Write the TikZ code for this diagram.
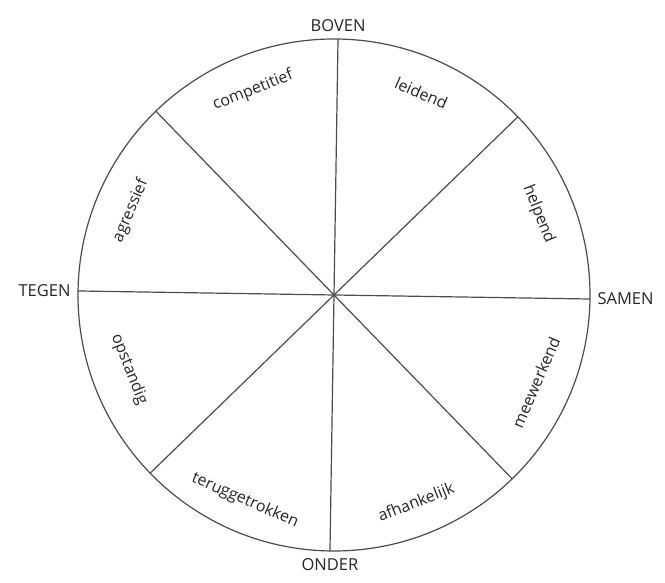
\documentclass[tikz,border=0pt]{standalone}
\usepackage{fontspec}
\setmainfont{Open Sans}
\usetikzlibrary{calc}

\tikzset{
  pole/.style={font=\fontsize{16.5}{18}\selectfont, text=black!85},
  trait/.style={font=\fontsize{16}{18}\selectfont, text=black!85, inner sep=0pt},
  spoke/.style={draw=black!70, line width=1.2pt},
}

\begin{document}
\begin{tikzpicture}[x=1pt, y=1pt]
\useasboundingbox (0,0) rectangle (665,583);

% Wheel
\coordinate (c) at (334,288);
\draw[spoke] (c) circle (256);

% Rim points of the spokes (slightly tilted)
\coordinate (top)   at ($(c)+(89.1:256)$);
\coordinate (bot)   at ($(c)+(269.1:256)$);
\coordinate (left)  at ($(c)+(179.1:256)$);
\coordinate (right) at ($(c)+(-0.9:256)$);
\coordinate (ul)    at ($(c)+(134.1:256)$);
\coordinate (lr)    at ($(c)+(314.1:256)$);
\coordinate (ur)    at ($(c)+(44.1:256)$);
\coordinate (ll)    at ($(c)+(224.1:256)$);

% Spokes
\draw[spoke] (top) -- (bot);
\draw[spoke] (left) -- (right);
\draw[spoke] (ul) -- (lr);
\draw[spoke] (ur) -- (ll);

% Poles
\node[pole, above=4pt] (boven) at (top) {BOVEN};
\node[pole, below=4pt] (onder) at (bot) {ONDER};
\node[pole, left=4pt]  (tegen) at (left) {TEGEN};
\node[pole, right=4pt] (samen) at (right) {SAMEN};

% Sector labels
\node[trait, rotate=21.6]  (competitief) at ($(c)+(111.6:220)$) {competitief};
\node[trait, rotate=-23.4] (leidend)     at ($(c)+(66.6:220)$)  {leidend};
\node[trait, rotate=-68.4] (helpend)     at ($(c)+(21.6:220)$)  {helpend};
\node[trait, rotate=66.6]  (meewerkend)  at ($(c)+(-23.4:220)$) {meewerkend};
\node[trait, rotate=21.6]  (afhankelijk) at ($(c)+(-68.4:224)$) {afhankelijk};
\node[trait, rotate=-23.4] (teruggetrokken) at ($(c)+(-113.4:224)$) {teruggetrokken};
\node[trait, rotate=-68.4] (opstandig)   at ($(c)+(-160:218)$) {opstandig};
\node[trait, rotate=66.6]  (agressief)   at ($(c)+(157.5:220)$) {agressief};

\end{tikzpicture}
\end{document}
